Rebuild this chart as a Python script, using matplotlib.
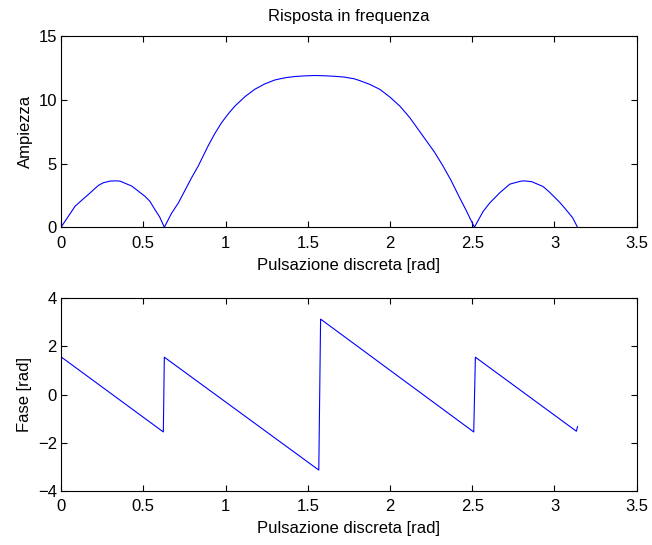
import matplotlib
matplotlib.use("Agg")
import matplotlib.pyplot as plt

plt.rcParams['font.family'] = ['Liberation Sans', 'DejaVu Sans']

# amplitude response
w_amp = [0.0, 0.085, 0.126, 0.166, 0.227, 0.257, 0.298, 0.33, 0.358, 0.43, 0.47,
         0.51, 0.54, 0.571, 0.6, 0.628, 0.672, 0.713, 0.794, 0.834, 0.895, 0.935,
         0.976, 1.017, 1.057, 1.118, 1.178, 1.24, 1.30, 1.36, 1.42, 1.48, 1.543,
         1.6, 1.66, 1.72, 1.78, 1.816, 1.878, 1.94, 2.0, 2.06, 2.12, 2.17, 2.22,
         2.27, 2.32, 2.37, 2.42, 2.46, 2.513, 2.566, 2.606, 2.667, 2.728, 2.79,
         2.813, 2.86, 2.93, 2.97, 3.032, 3.07, 3.11, 3.14]
ampiezza = [0.0, 1.64, 2.12, 2.57, 3.28, 3.49, 3.62, 3.64, 3.62, 3.23, 2.83,
            2.43, 2.04, 1.38, 0.8, 0.0, 1.1, 1.9, 3.89, 4.8, 6.4, 7.35,
            8.2, 8.9, 9.5, 10.24, 10.82, 11.25, 11.55, 11.72, 11.82, 11.87, 11.9,
            11.88, 11.84, 11.78, 11.65, 11.5, 11.2, 10.8, 10.2, 9.5, 8.6, 7.7, 6.8,
            5.9, 4.85, 3.7, 2.4, 1.4, 0.0, 1.24, 1.9, 2.7, 3.38, 3.6,
            3.64, 3.58, 3.2, 2.75, 1.95, 1.38, 0.75, 0.0]

# phase response (piecewise straight, vertices)
w_fase = [0.0, 0.003, 0.622, 0.628, 1.567, 1.578, 2.509, 2.519, 3.133, 3.14]
fase = [0.0, 1.55, -1.55, 1.55, -3.13, 3.13, -1.55, 1.55, -1.52, -1.33]

xticks = [0, 0.5, 1, 1.5, 2, 2.5, 3, 3.5]
xlabels = ['0', '0.5', '1', '1.5', '2', '2.5', '3', '3.5']

fs = 12

fig = plt.figure(figsize=(6.52, 5.45), dpi=100)
ax1 = fig.add_axes([0.0936, 0.583, 0.883, 0.351])
ax2 = fig.add_axes([0.0936, 0.099, 0.883, 0.354])

ax1.plot(w_amp, ampiezza, color='#0000ff', linewidth=0.8)
ax1.set_xlim(0, 3.5)
ax1.set_ylim(0, 15)
ax1.set_yticks([0, 5, 10, 15])
ax1.set_ylabel('Ampiezza', fontsize=fs, labelpad=4)
ax1.set_xlabel('Pulsazione discreta [rad]', fontsize=fs, labelpad=5)
ax1.set_title('Risposta in frequenza', fontsize=fs, pad=11)

ax2.plot(w_fase, fase, color='#0000ff', linewidth=0.8)
ax2.set_xlim(0, 3.5)
ax2.set_ylim(-4, 4)
ax2.set_yticks([-4, -2, 0, 2, 4])
ax2.set_ylabel('Fase [rad]', fontsize=fs, labelpad=4)
ax2.set_xlabel('Pulsazione discreta [rad]', fontsize=fs, labelpad=5)

for ax in (ax1, ax2):
    ax.set_xticks(xticks)
    ax.set_xticklabels(xlabels)
    ax.tick_params(direction='in', top=True, right=True, labelsize=fs, length=4)
    ax.tick_params(axis='x', pad=6)
    ax.tick_params(axis='y', pad=3)

fig.savefig('out.png', dpi=100)
